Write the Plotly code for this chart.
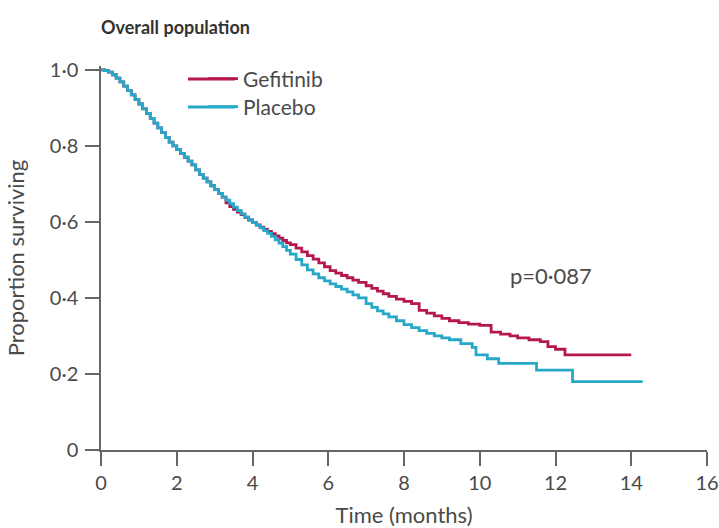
import plotly.graph_objects as go

# Gefitinib Kaplan-Meier estimates (time in months, proportion surviving)
gef_time = [0.0, 0.1, 0.2, 0.3, 0.4, 0.5, 0.6, 0.7, 0.8, 0.9, 1.0, 1.1, 1.2, 1.3, 1.4, 1.5,
            1.6, 1.7, 1.8, 1.9, 2.0, 2.1, 2.2, 2.3, 2.4, 2.5, 2.6, 2.7, 2.8, 2.9, 3.0, 3.1,
            3.2, 3.3, 3.4, 3.5, 3.6, 3.7, 3.8, 3.9, 4.0, 4.1, 4.2, 4.3, 4.4, 4.5, 4.6, 4.7,
            4.8, 4.9, 5.0, 5.15, 5.3, 5.45, 5.6, 5.75, 5.9, 6.05, 6.2, 6.35, 6.5, 6.65, 6.8,
            7.0, 7.15, 7.3, 7.45, 7.6, 7.8, 8.0, 8.2, 8.4, 8.6, 8.8, 9.0, 9.2, 9.45, 9.7,
            10.0, 10.3, 10.55, 10.8, 11.0, 11.3, 11.6, 11.8, 12.0, 12.25, 14.0]
gef_surv = [1.0, 0.998, 0.994, 0.987, 0.978, 0.968, 0.957, 0.946, 0.934, 0.922, 0.910, 0.897,
            0.885, 0.872, 0.860, 0.847, 0.835, 0.822, 0.810, 0.800, 0.790, 0.780, 0.770,
            0.760, 0.750, 0.737, 0.725, 0.715, 0.705, 0.695, 0.685, 0.675, 0.665, 0.650,
            0.640, 0.633, 0.626, 0.619, 0.612, 0.605, 0.598, 0.592, 0.586, 0.580, 0.575,
            0.569, 0.563, 0.557, 0.551, 0.545, 0.540, 0.531, 0.521, 0.511, 0.502, 0.492,
            0.482, 0.472, 0.465, 0.459, 0.453, 0.447, 0.441, 0.432, 0.425, 0.418, 0.411,
            0.404, 0.397, 0.391, 0.385, 0.367, 0.360, 0.353, 0.346, 0.340, 0.335, 0.331,
            0.328, 0.310, 0.305, 0.300, 0.295, 0.290, 0.285, 0.272, 0.265, 0.25, 0.25]

# Placebo Kaplan-Meier estimates
pla_time = [0.0, 0.1, 0.2, 0.3, 0.4, 0.5, 0.6, 0.7, 0.8, 0.9, 1.0, 1.1, 1.2, 1.3, 1.4, 1.5,
            1.6, 1.7, 1.8, 1.9, 2.0, 2.1, 2.2, 2.3, 2.4, 2.5, 2.6, 2.7, 2.8, 2.9, 3.0, 3.1,
            3.2, 3.3, 3.4, 3.5, 3.6, 3.7, 3.8, 3.9, 4.0, 4.1, 4.2, 4.3, 4.4, 4.5, 4.6, 4.7,
            4.8, 4.9, 5.0, 5.15, 5.3, 5.45, 5.6, 5.75, 5.9, 6.05, 6.2, 6.35, 6.5, 6.65, 6.8,
            7.0, 7.15, 7.3, 7.45, 7.6, 7.8, 8.0, 8.2, 8.4, 8.6, 8.8, 9.0, 9.2, 9.5, 9.8,
            9.9, 10.2, 10.5, 11.5, 12.45, 14.3]
pla_surv = [1.0, 0.998, 0.994, 0.987, 0.978, 0.968, 0.957, 0.946, 0.934, 0.922, 0.910, 0.897,
            0.885, 0.872, 0.860, 0.847, 0.835, 0.822, 0.810, 0.800, 0.790, 0.780, 0.770,
            0.760, 0.750, 0.737, 0.725, 0.715, 0.705, 0.695, 0.685, 0.675, 0.665, 0.657,
            0.648, 0.639, 0.630, 0.621, 0.613, 0.605, 0.598, 0.591, 0.584, 0.577, 0.570,
            0.562, 0.553, 0.544, 0.535, 0.525, 0.515, 0.501, 0.487, 0.474, 0.463, 0.453,
            0.445, 0.437, 0.430, 0.423, 0.416, 0.408, 0.400, 0.385, 0.375, 0.366, 0.358,
            0.350, 0.340, 0.330, 0.322, 0.314, 0.307, 0.300, 0.295, 0.290, 0.280, 0.270,
            0.250, 0.240, 0.228, 0.210, 0.180, 0.180]

x_ticks = [0, 2, 4, 6, 8, 10, 12, 14, 16]
y_ticks = [0, 0.2, 0.4, 0.6, 0.8, 1.0]
y_tick_labels = ["0", "0·2", "0·4", "0·6", "0·8", "1·0"]

RED = "#b5174f"
BLUE = "#26a9c8"
FONT = "Lato"
TXT = "#4a4a4a"
AX = "#666666"
TICK_FS = 20
LBL_FS = 22
LEG_FS = 21

L, R, T, B = 101, 12, 66, 78
PW, PH = 719 - L - R, 528 - T - B


def px_x(px):
    return (px - L) / PW


def px_y(py):
    return (528 - B - py) / PH


fig = go.Figure()
fig.add_trace(go.Scatter(x=gef_time, y=gef_surv, mode="lines", name="Gefitinib",
                         line=dict(color=RED, width=2.8, shape="hv"), legend="legend"))
fig.add_trace(go.Scatter(x=pla_time, y=pla_surv, mode="lines", name="Placebo",
                         line=dict(color=BLUE, width=2.8, shape="hv"), legend="legend2"))

# longer legend key strokes (the reference keys are wider than plotly's default)
for col, ypx in ((RED, 79), (BLUE, 107)):
    fig.add_shape(type="line", xref="paper", yref="paper", x0=px_x(188), x1=px_x(235),
                  y0=px_y(ypx), y1=px_y(ypx), line=dict(color=col, width=2.8))

fig.add_annotation(x=11.87, y=0.458, text="p=0·087", showarrow=False,
                   font=dict(family=FONT, size=LBL_FS, color=TXT), xanchor="center",
                   yanchor="middle")
fig.add_annotation(xref="paper", yref="paper", x=px_x(99), y=px_y(27),
                   text="<b>Overall population</b>", showarrow=False, xanchor="left",
                   yanchor="middle", font=dict(family=FONT, size=18, color="#333333"))

fig.update_layout(
    width=719, height=528,
    margin=dict(l=L, r=R, t=T, b=B, autoexpand=False),
    paper_bgcolor="white", plot_bgcolor="white",
    font=dict(family=FONT, size=TICK_FS, color=TXT),
    legend=dict(x=px_x(203), y=px_y(79), xanchor="left", yanchor="middle",
                bgcolor="rgba(0,0,0,0)", font=dict(family=FONT, size=LEG_FS, color=TXT),
                itemwidth=30),
    legend2=dict(x=px_x(203), y=px_y(107), xanchor="left", yanchor="middle",
                 bgcolor="rgba(0,0,0,0)", font=dict(family=FONT, size=LEG_FS, color=TXT),
                 itemwidth=30),
    showlegend=True,
)
fig.update_xaxes(range=[0, 16], tickvals=x_ticks, ticks="outside", ticklen=14, tickwidth=1.5,
                 tickcolor=AX, showline=True, linecolor=AX, linewidth=1.5, showgrid=False,
                 zeroline=False, automargin=False,
                 tickfont=dict(family=FONT, size=TICK_FS, color=TXT),
                 title=dict(text="Time (months)", font=dict(family=FONT, size=LBL_FS, color=TXT),
                            standoff=17))
fig.update_yaxes(range=[0, 1.01], tickvals=y_ticks, ticktext=y_tick_labels, ticks="outside",
                 ticklen=14, tickwidth=1.5, tickcolor=AX, showline=True, linecolor=AX,
                 linewidth=1.5, showgrid=False, zeroline=False, automargin=False,
                 ticklabelstandoff=3,
                 tickfont=dict(family=FONT, size=TICK_FS, color=TXT),
                 title=dict(text="Proportion surviving",
                            font=dict(family=FONT, size=LBL_FS, color=TXT), standoff=19))

fig.write_html("out.html", config={"displayModeBar": False},
               post_script="document.body.style.margin='0';")
